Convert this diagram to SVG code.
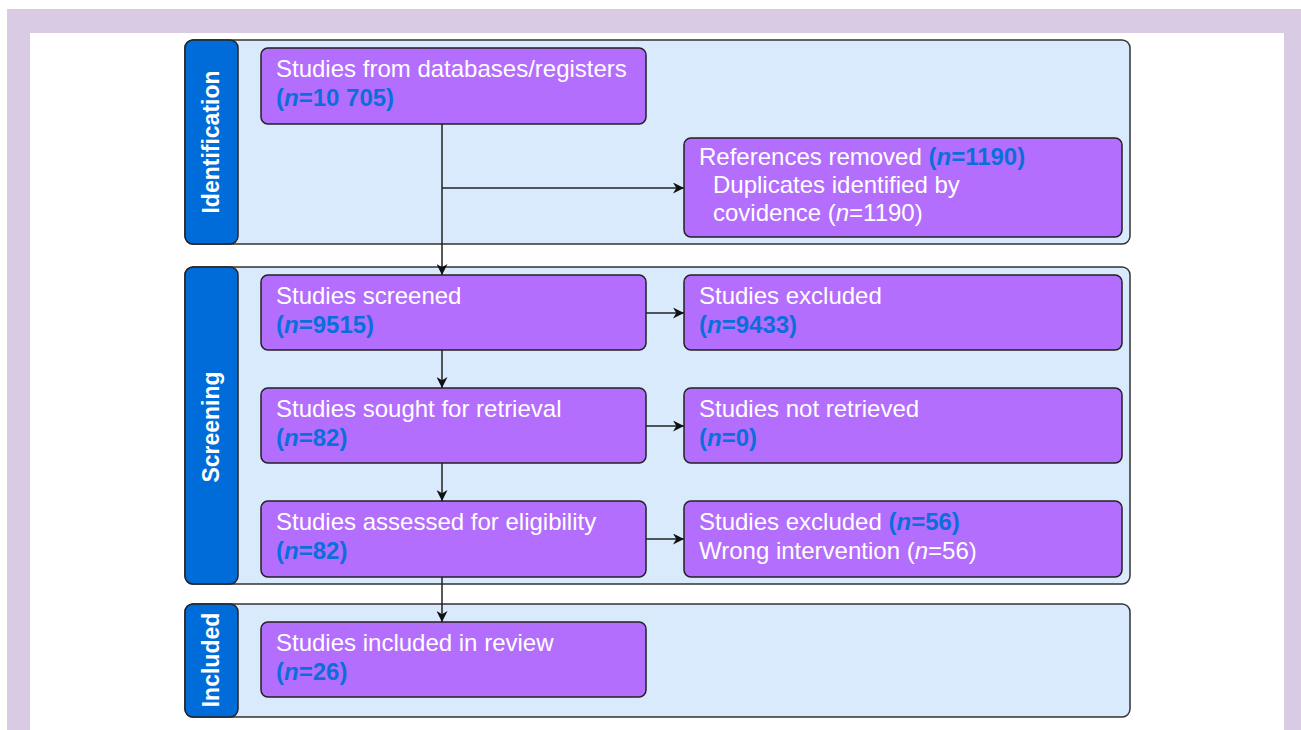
<svg xmlns="http://www.w3.org/2000/svg" width="1301" height="730" viewBox="0 0 1301 730">
<defs>
<marker id="arr" viewBox="0 0 10 10" refX="10" refY="5" markerWidth="11" markerHeight="11" markerUnits="userSpaceOnUse" orient="auto">
<path d="M0,0 L10,5 L0,10 L3,5 Z" fill="#111"/>
</marker>
<style>
.band{fill:#d9eafc;stroke:#333;stroke-width:1.5}
.tab{fill:#006cd9;stroke:#222;stroke-width:1.5}
.tabt{font-family:"Liberation Sans",Arial,sans-serif;font-size:23px;font-weight:bold;fill:#fff;text-anchor:middle}
.node{fill:#b46efd;stroke:#222;stroke-width:1.5}
.t{font-family:"Liberation Sans",Arial,sans-serif;font-size:24px;fill:#fff}
.b{font-weight:bold;fill:#0a6fdb}
.i{font-style:italic}
.c{stroke:#222;stroke-width:1.5;fill:none;marker-end:url(#arr)}
</style>
</defs>
<rect x="0" y="0" width="1301" height="730" fill="#fff"/>
<rect x="7" y="9" width="1294" height="721" fill="#d9cbe3"/>
<rect x="30" y="33" width="1254" height="697" fill="#fff"/>

<g id="band-identification">
<rect class="band" x="185" y="40" width="945" height="204" rx="8"/>
<rect class="tab" x="185" y="40" width="53" height="204" rx="8"/>
<text class="tabt" transform="translate(219,142) rotate(-90)">Identification</text>
</g>
<g id="band-screening">
<rect class="band" x="185" y="267" width="945" height="317" rx="8"/>
<rect class="tab" x="185" y="267" width="53" height="317" rx="8"/>
<text class="tabt" transform="translate(219,427) rotate(-90)">Screening</text>
</g>
<g id="band-included">
<rect class="band" x="185" y="604" width="945" height="113" rx="8"/>
<rect class="tab" x="185" y="604" width="53" height="113" rx="8"/>
<text class="tabt" transform="translate(219,660) rotate(-90)">Included</text>
</g>

<g id="n-databases">
<rect class="node" x="261" y="48" width="385" height="76" rx="7"/>
<text class="t" x="276" y="77">Studies from databases/registers</text>
<text class="t b" x="276" y="106">(<tspan class="i">n</tspan>=10 705)</text>
</g>
<g id="n-removed">
<rect class="node" x="684" y="138" width="438" height="99" rx="7"/>
<text class="t" x="699" y="165">References removed <tspan class="b">(<tspan class="i">n</tspan>=1190)</tspan></text>
<text class="t" x="713" y="193">Duplicates identified by</text>
<text class="t" x="713" y="221">covidence (<tspan class="i">n</tspan>=1190)</text>
</g>
<g id="n-screened">
<rect class="node" x="261" y="275" width="385" height="75" rx="7"/>
<text class="t" x="276" y="304">Studies screened</text>
<text class="t b" x="276" y="333">(<tspan class="i">n</tspan>=9515)</text>
</g>
<g id="n-excluded1">
<rect class="node" x="684" y="275" width="438" height="75" rx="7"/>
<text class="t" x="699" y="304">Studies excluded</text>
<text class="t b" x="699" y="333">(<tspan class="i">n</tspan>=9433)</text>
</g>
<g id="n-sought">
<rect class="node" x="261" y="388" width="385" height="75" rx="7"/>
<text class="t" x="276" y="417">Studies sought for retrieval</text>
<text class="t b" x="276" y="446">(<tspan class="i">n</tspan>=82)</text>
</g>
<g id="n-notretrieved">
<rect class="node" x="684" y="388" width="438" height="75" rx="7"/>
<text class="t" x="699" y="417">Studies not retrieved</text>
<text class="t b" x="699" y="446">(<tspan class="i">n</tspan>=0)</text>
</g>
<g id="n-assessed">
<rect class="node" x="261" y="501" width="385" height="76" rx="7"/>
<text class="t" x="276" y="530">Studies assessed for eligibility</text>
<text class="t b" x="276" y="559">(<tspan class="i">n</tspan>=82)</text>
</g>
<g id="n-excluded2">
<rect class="node" x="684" y="501" width="438" height="76" rx="7"/>
<text class="t" x="699" y="530">Studies excluded <tspan class="b">(<tspan class="i">n</tspan>=56)</tspan></text>
<text class="t" x="699" y="559">Wrong intervention (<tspan class="i">n</tspan>=56)</text>
</g>
<g id="n-included">
<rect class="node" x="261" y="622" width="385" height="75" rx="7"/>
<text class="t" x="276" y="651">Studies included in review</text>
<text class="t b" x="276" y="680">(<tspan class="i">n</tspan>=26)</text>
</g>

<g id="connectors">
<path class="c" d="M442,124 V275"/>
<path class="c" d="M442,188 H684"/>
<path class="c" d="M442,350 V388"/>
<path class="c" d="M442,463 V501"/>
<path class="c" d="M442,577 V622"/>
<path class="c" d="M646,313 H684"/>
<path class="c" d="M646,426 H684"/>
<path class="c" d="M646,539 H684"/>
</g>
</svg>
